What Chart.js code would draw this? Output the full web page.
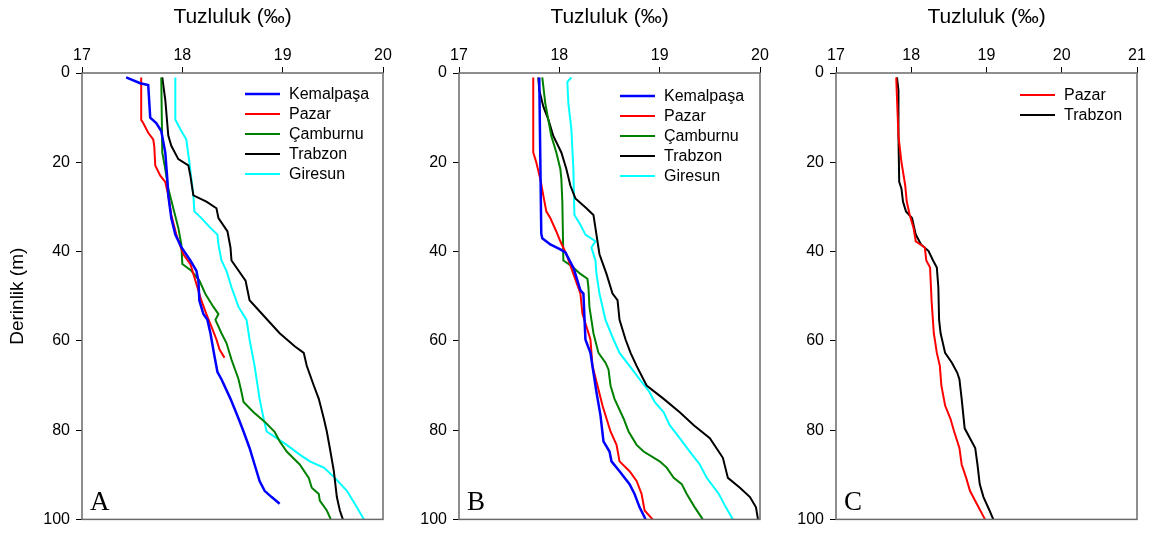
<!DOCTYPE html>
<html>
<head>
<meta charset="utf-8">
<script src="https://cdn.jsdelivr.net/npm/chart.js@4/dist/chart.umd.min.js"></script>
<style>
  body { margin: 0; background: #fff; }
  #wrap { position: relative; width: 1155px; height: 535px; }
  canvas { position: absolute; top: 0; }
</style>
</head>
<body>
<div id="wrap">
  <canvas id="chartA" width="395" height="535" style="left:0px"></canvas>
  <canvas id="chartB" width="377" height="535" style="left:395px"></canvas>
  <canvas id="chartC" width="377" height="535" style="left:772px"></canvas>
</div>
<script>
// --- Panel A ---
const aKemDepth = [1, 2.3, 2.7, 10, 11.2, 13, 17.8, 23.7, 27.4, 32.5, 36.2, 39, 42, 44.3, 46.5, 51, 54, 55.3, 58.3, 63.4, 67, 68.6, 73, 77.4, 80.3, 84, 87.7, 91.4, 93.6, 95, 96.5];
const aKemSal = [17.44, 17.58, 17.66, 17.68, 17.74, 17.79, 17.83, 17.85, 17.86, 17.89, 17.93, 17.99, 18.08, 18.14, 18.16, 18.17, 18.21, 18.25, 18.28, 18.32, 18.35, 18.39, 18.48, 18.56, 18.61, 18.67, 18.72, 18.77, 18.82, 18.89, 18.97];

const aPazDepth = [1, 10.5, 11.2, 13.4, 14.9, 16.3, 20.7, 23, 24.4, 27.4, 31.8, 36.2, 40.6, 42.8, 45, 48, 51, 54, 56.8, 59.7, 61.9, 63.8];
const aPazSal = [17.59, 17.59, 17.61, 17.66, 17.71, 17.72, 17.73, 17.78, 17.83, 17.86, 17.89, 17.94, 18.01, 18.08, 18.11, 18.15, 18.19, 18.24, 18.29, 18.34, 18.37, 18.42];

const aCamDepth = [1, 17.8, 21.5, 25.9, 30.3, 34.7, 38.4, 42.8, 44.3, 46.5, 49.5, 52.4, 54, 55.3, 58.3, 60.5, 64.2, 68.6, 71.5, 73.7, 76, 78.1, 80.4, 82.5, 84.8, 87.7, 90.7, 92.9, 94.3, 95.8, 98, 100];
const aCamSal = [17.79, 17.80, 17.83, 17.86, 17.91, 17.96, 17.99, 18.00, 18.09, 18.17, 18.23, 18.31, 18.36, 18.33, 18.39, 18.44, 18.49, 18.56, 18.59, 18.61, 18.71, 18.82, 18.92, 18.97, 19.04, 19.17, 19.26, 19.29, 19.36, 19.37, 19.44, 19.48];

const aTrbDepth = [1, 6, 14, 16.3, 19.3, 20.7, 23, 27.4, 28.8, 30.3, 32.5, 35.5, 39.1, 42, 46.5, 50.9, 54.6, 58.3, 61.2, 62.7, 65.6, 70, 73, 77.4, 80.3, 84, 89.2, 95, 98, 100];
const aTrbSal = [17.80, 17.83, 17.86, 17.89, 17.96, 18.06, 18.08, 18.11, 18.24, 18.34, 18.36, 18.45, 18.48, 18.49, 18.63, 18.67, 18.82, 18.97, 19.12, 19.21, 19.24, 19.31, 19.36, 19.41, 19.44, 19.47, 19.51, 19.54, 19.57, 19.60];

const aGirDepth = [1, 10.4, 12.6, 14.9, 20, 23.7, 27.4, 31, 32.5, 34.7, 36.2, 38.4, 42, 44.3, 48, 52.4, 55.3, 59.7, 65.6, 73, 77.4, 80.3, 81.8, 83.3, 85.5, 87, 88.4, 90.7, 93.6, 97.3, 100];
const aGirSal = [17.93, 17.93, 17.98, 18.04, 18.07, 18.09, 18.11, 18.12, 18.19, 18.28, 18.35, 18.36, 18.39, 18.44, 18.49, 18.56, 18.64, 18.67, 18.72, 18.77, 18.81, 18.84, 18.94, 19.04, 19.17, 19.27, 19.41, 19.52, 19.64, 19.74, 19.81];

// --- Panel B ---
const bKemDepth = [1, 36, 37, 38.4, 39.5, 40.2, 43.6, 45, 48.7, 49.4, 54.6, 59.7, 62.7, 67.1, 71.5, 76.7, 82.5, 84.8, 87, 89.2, 92.1, 94.3, 97.3, 100];
const bKemSal = [17.80, 17.82, 17.83, 17.91, 18.01, 18.06, 18.14, 18.16, 18.21, 18.24, 18.25, 18.26, 18.31, 18.34, 18.37, 18.41, 18.44, 18.50, 18.52, 18.60, 18.70, 18.75, 18.80, 18.86];

const bPazDepth = [1, 17.8, 20, 23.7, 27.4, 31, 32.5, 35.5, 37.7, 40.6, 45, 49.4, 53.9, 56.8, 59.7, 65.6, 70, 74.5, 77.4, 80.3, 83.3, 87, 89.2, 91.4, 94.3, 98, 100];
const bPazSal = [17.74, 17.74, 17.77, 17.81, 17.84, 17.87, 17.91, 17.97, 18.01, 18.07, 18.14, 18.21, 18.23, 18.27, 18.31, 18.33, 18.38, 18.43, 18.47, 18.51, 18.57, 18.60, 18.70, 18.77, 18.82, 18.85, 18.93];

const bCamDepth = [1, 6.8, 14.1, 17.8, 21.5, 23.7, 28.8, 42, 43.2, 45, 46.1, 48, 52.4, 58.3, 62.7, 64.9, 66.4, 70, 73, 77.4, 80.3, 83.3, 84.8, 87, 88.4, 90.7, 92.1, 94.3, 97.3, 100];
const bCamSal = [17.83, 17.86, 17.92, 17.97, 18.01, 18.02, 18.03, 18.04, 18.12, 18.21, 18.28, 18.29, 18.30, 18.34, 18.39, 18.46, 18.49, 18.51, 18.55, 18.64, 18.69, 18.77, 18.84, 19.00, 19.07, 19.14, 19.22, 19.27, 19.35, 19.43];

const bTrbDepth = [1, 3.8, 7.5, 10.4, 14.1, 17.8, 21.5, 25.2, 28.1, 30.3, 31.8, 36.2, 40.6, 45, 49.4, 50.9, 55.3, 59.7, 62.7, 65.6, 70, 73, 76, 78.9, 81.8, 86.2, 90.7, 92.9, 95, 97.3, 100];
const bTrbSal = [17.79, 17.80, 17.84, 17.89, 17.94, 18.02, 18.07, 18.11, 18.16, 18.27, 18.34, 18.37, 18.40, 18.47, 18.53, 18.58, 18.60, 18.66, 18.71, 18.77, 18.87, 19.04, 19.20, 19.34, 19.50, 19.63, 19.68, 19.80, 19.90, 19.96, 19.98];

const bGirDepth = [1, 2, 6.8, 12.6, 21.5, 31.8, 34, 36.2, 37.7, 39.1, 42, 45, 49.4, 55.3, 59.7, 62.7, 65.6, 68.6, 71.5, 73.7, 76, 78.9, 81.8, 84.8, 87.7, 90.7, 94.3, 97.3, 100];
const bGirSal = [18.12, 18.08, 18.09, 18.12, 18.14, 18.15, 18.21, 18.26, 18.36, 18.32, 18.36, 18.37, 18.40, 18.46, 18.54, 18.60, 18.70, 18.80, 18.90, 18.95, 19.04, 19.10, 19.20, 19.30, 19.40, 19.47, 19.59, 19.66, 19.73];

// --- Panel C ---
const cPazDepth = [1, 14.1, 20, 25.2, 28.8, 31.8, 34.7, 37.7, 39.1, 42, 43.6, 51, 58.3, 62.7, 65.6, 70, 74.5, 77.4, 80.3, 84, 87.7, 90.7, 93.6, 96.5, 100];
const cPazSal = [17.80, 17.83, 17.87, 17.92, 17.94, 17.98, 18.03, 18.06, 18.18, 18.20, 18.25, 18.27, 18.30, 18.34, 18.38, 18.40, 18.45, 18.52, 18.57, 18.64, 18.67, 18.73, 18.78, 18.87, 18.98];

const cTrbDepth = [1, 3.8, 14.1, 24.4, 25.9, 28.8, 31, 32.5, 34.7, 36.2, 38.4, 39.9, 42, 43.6, 48, 55.3, 58.3, 62.7, 64.9, 67.1, 68.6, 73, 79.6, 81.8, 84, 87.7, 92.1, 95, 98, 100];
const cTrbSal = [17.81, 17.83, 17.83, 17.84, 17.87, 17.89, 17.93, 18.01, 18.04, 18.06, 18.13, 18.23, 18.29, 18.34, 18.36, 18.37, 18.39, 18.45, 18.54, 18.61, 18.64, 18.67, 18.71, 18.78, 18.85, 18.88, 18.91, 18.96, 19.04, 19.09];

const xTitle = 'Tuzluluk (‰)';
const yTitle = 'Derinlik (m)';

const FONT = '"Liberation Sans", Arial, sans-serif';
const SERIF = '"Liberation Serif", "Times New Roman", serif';

function pts(dep, sal) {
    return dep.map((d, i) => ({ x: sal[i], y: d }));
}

function series(label, color, dep, sal, width) {
    return {
        label: label,
        data: pts(dep, sal),
        borderColor: color,
        backgroundColor: color,
        borderWidth: width || 2,
        showLine: true,
        pointRadius: 0,
        tension: 0
    };
}

// legend inside the plot area
const insideLegend = {
    id: 'insideLegend',
    afterDatasetsDraw(chart, args, opts) {
        const ctx = chart.ctx;
        const area = chart.chartArea;
        ctx.save();
        ctx.font = '16px ' + FONT;
        ctx.textBaseline = 'middle';
        chart.data.datasets.forEach((ds, i) => {
            const x = area.left + opts.x;
            const y = area.top + opts.y + i * 20;
            ctx.strokeStyle = ds.borderColor;
            ctx.lineWidth = ds.borderWidth;
            ctx.beginPath();
            ctx.moveTo(x, y);
            ctx.lineTo(x + 35, y);
            ctx.stroke();
            ctx.fillStyle = '#000';
            ctx.fillText(ds.label, x + 44, y + 1);
        });
        ctx.restore();
    }
};

// frame + panel letter
const frame = {
    id: 'frame',
    afterDatasetsDraw(chart, args, opts) {
        const ctx = chart.ctx;
        const a = chart.chartArea;
        ctx.save();
        ctx.strokeStyle = '#6a6a6a';
        ctx.lineWidth = 1.5;
        ctx.strokeRect(a.left, a.top, a.right - a.left, a.bottom - a.top);
        ctx.fillStyle = '#000';
        ctx.font = '27px ' + SERIF;
        ctx.textBaseline = 'alphabetic';
        ctx.fillText(opts.letter, a.left + 8, a.bottom - 9);
        ctx.restore();
    }
};

function makeOptions(xMax, yWidth, showYTitle, letter, legX, legY) {
    return {
        responsive: false,
        animation: false,
        layout: { padding: { left: 0, right: 12, top: 0, bottom: 10 } },
        scales: {
            x: {
                type: 'linear',
                position: 'top',
                min: 17,
                max: xMax,
                ticks: { stepSize: 1, color: '#000', padding: 2, font: { family: FONT, size: 16 } },
                grid: { drawOnChartArea: false, drawTicks: true, tickLength: 6, color: '#000' },
                border: { display: false },
                title: { display: true, text: xTitle, color: '#000', font: { family: FONT, size: 21 }, padding: { top: 5, bottom: 0 } },
                afterFit: s => { s.height = 73; }
            },
            y: {
                type: 'linear',
                position: 'left',
                min: 0,
                max: 100,
                reverse: true,
                ticks: { stepSize: 20, color: '#000', padding: 6, font: { family: FONT, size: 16 } },
                grid: { drawOnChartArea: false, drawTicks: true, tickLength: 6, color: '#000' },
                border: { display: false },
                title: { display: showYTitle, text: yTitle, color: '#000', font: { family: FONT, size: 19 }, padding: { top: 6, bottom: 0 } },
                afterFit: s => { s.width = yWidth; }
            }
        },
        plugins: {
            legend: { display: false },
            tooltip: { enabled: false },
            insideLegend: { x: legX, y: legY },
            frame: { letter: letter }
        }
    };
}

new Chart(document.getElementById('chartA'), {
    type: 'scatter',
    data: {
        datasets: [
            series('Kemalpaşa', '#0000ff', aKemDepth, aKemSal, 2.5),
            series('Pazar', '#ff0000', aPazDepth, aPazSal),
            series('Çamburnu', '#008000', aCamDepth, aCamSal),
            series('Trabzon', '#000000', aTrbDepth, aTrbSal),
            series('Giresun', '#00ffff', aGirDepth, aGirSal)
        ]
    },
    options: makeOptions(20, 82, true, 'A', 163, 21),
    plugins: [insideLegend, frame]
});

new Chart(document.getElementById('chartB'), {
    type: 'scatter',
    data: {
        datasets: [
            series('Kemalpaşa', '#0000ff', bKemDepth, bKemSal, 2.5),
            series('Pazar', '#ff0000', bPazDepth, bPazSal),
            series('Çamburnu', '#008000', bCamDepth, bCamSal),
            series('Trabzon', '#000000', bTrbDepth, bTrbSal),
            series('Giresun', '#00ffff', bGirDepth, bGirSal)
        ]
    },
    options: makeOptions(20, 64, false, 'B', 161, 23),
    plugins: [insideLegend, frame]
});

new Chart(document.getElementById('chartC'), {
    type: 'scatter',
    data: {
        datasets: [
            series('Pazar', '#ff0000', cPazDepth, cPazSal),
            series('Trabzon', '#000000', cTrbDepth, cTrbSal)
        ]
    },
    options: makeOptions(21, 64, false, 'C', 184, 22),
    plugins: [insideLegend, frame]
});
</script>
</body>
</html>
